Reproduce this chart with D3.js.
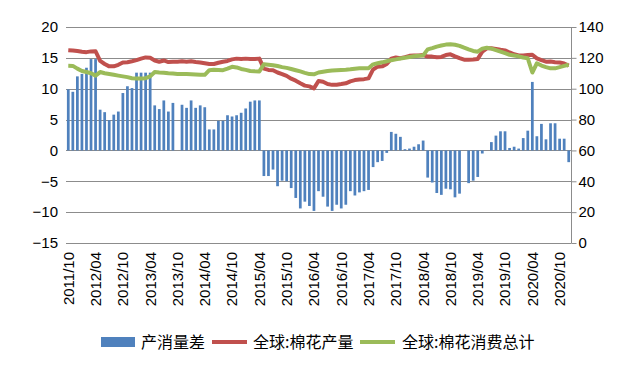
<!DOCTYPE html>
<html>
<head>
<meta charset="utf-8">
<script src="https://cdn.jsdelivr.net/npm/d3@7"></script>
<style>
  html, body { margin: 0; padding: 0; background: #fff; }
  svg { display: block; }
</style>
</head>
<body>
<svg id="chart" width="634" height="367"></svg>
<script>
// ---------- data ----------
const months = [
  "2011/10","2011/11","2011/12",
  "2012/01","2012/02","2012/03","2012/04","2012/05","2012/06","2012/07","2012/08","2012/09","2012/10","2012/11","2012/12",
  "2013/01","2013/02","2013/03","2013/04","2013/05","2013/06","2013/07","2013/08","2013/09","2013/10","2013/11","2013/12",
  "2014/01","2014/02","2014/03","2014/04","2014/05","2014/06","2014/07","2014/08","2014/09","2014/10","2014/11","2014/12",
  "2015/01","2015/02","2015/03","2015/04","2015/05","2015/06","2015/07","2015/08","2015/09","2015/10","2015/11","2015/12",
  "2016/01","2016/02","2016/03","2016/04","2016/05","2016/06","2016/07","2016/08","2016/09","2016/10","2016/11","2016/12",
  "2017/01","2017/02","2017/03","2017/04","2017/05","2017/06","2017/07","2017/08","2017/09","2017/10","2017/11","2017/12",
  "2018/01","2018/02","2018/03","2018/04","2018/05","2018/06","2018/07","2018/08","2018/09","2018/10","2018/11","2018/12",
  "2019/01","2019/02","2019/03","2019/04","2019/05","2019/06","2019/07","2019/08","2019/09","2019/10","2019/11","2019/12",
  "2020/01","2020/02","2020/03","2020/04","2020/05","2020/06","2020/07","2020/08","2020/09","2020/10","2020/11","2020/12"
];

// 产消量差 (left axis)
const gap = [
  9.9, 9.5, 12.0,
  12.4, 13.4, 14.8, 14.8, 6.6, 6.2, 4.9, 5.8, 6.3, 9.3, 10.4, 10.1,
  12.6, 12.6, 12.6, 12.6, 7.3, 6.7, 8.1, 6.3, 7.7, null, 7.4, 6.9,
  8.1, 6.9, 7.3, 7.0, 3.4, 3.4, 4.8, 4.8, 5.7, 5.5, 5.7, 6.1,
  6.8, 7.9, 8.1, 8.1, -4.15, -4.15, -3.1, -5.8, -4.9, -5.0, -6.1, -7.7,
  -9.4, -8.3, -9.0, -9.8, -6.6, -7.5, -9.1, -9.8, -8.8, -9.4, -8.8, -6.6,
  -7.3, -6.8, -6.6, -6.4, -2.7, -1.9, -1.7, -0.4, 3.0, 2.7, 2.2, 0.2,
  0.3, 0.6, 1.0, 1.6, -4.4, -5.2, -6.9, -7.2, -6.2, -6.3, -7.6, -7.0,
  null, -5.3, -4.9, -4.3, -0.5, null, 1.35, 2.4, 3.1, 3.1, 0.4, 0.6,
  0.3, 2.0, 3.2, 11.1, 2.3, 4.3, 1.8, 4.4, 4.4, 1.9, 1.9, -1.9
];

// 全球:棉花产量 (right axis)
const production = [
  125, 124.8, 124.5,
  124, 123.7, 124.2, 124.3, 118, 116, 114.5, 114.5, 115.5, 117, 117.2, 117.8,
  118.5, 119.5, 120.3, 120, 118.3, 117.5, 118.3, 117.3, 117.5, 117.5, 117.8, 117.5,
  117.8, 117.3, 117, 116.5, 116, 116, 116.8, 117.5, 118, 119, 119.5, 119.3,
  119.5, 119.3, 119.2, 119.5, 113, 112.2, 112, 110.5, 109.5, 108.3, 106.5, 105.2,
  103.5, 102, 101.5, 100.2, 105, 104.5, 103, 102.5, 102.6, 103, 103.5, 104.8,
  105.6, 106, 106.2, 106.7, 112.5, 114.3, 114.5, 116, 119.5, 120.2, 119.8, 120.5,
  121.3, 121.5, 121.6, 121.8, 120.8, 120.8, 120.4, 120.6, 121.8, 122.3, 121, 119.8,
  118.8, 118.8, 119, 119.3, 124, 126.2, 126.2, 125.8, 125.2, 124.8, 123.5, 122.3,
  121.6, 121.5, 121.8, 122, 119.7, 118.5, 117.5, 117.6, 117.2, 117, 116.3, 115
];

// 全球:棉花消费总计 (right axis)
const consumption = [
  114.9, 114.8, 113,
  111.5, 110.8, 110, 108.5, 110.8, 110, 109.5, 109, 108.5, 108, 107.5, 106.8,
  106.7, 106.7, 106.8, 108, 110.8, 110.5, 110.3, 110, 109.8, 109.6, 109.5, 109.5,
  109.4, 109.2, 109, 109, 112, 112.3, 112.2, 112, 113, 114.2, 113.8, 112.8,
  112.2, 111.5, 111.3, 111.2, 115.8, 115.5, 115.2, 114.7, 114, 113.5, 112.8, 112,
  111.2, 110.3, 109.5, 109.3, 110.5, 111, 111.5, 111.8, 112, 112.2, 112.3, 112.6,
  113, 113.2, 113.2, 113.3, 115.8, 116.5, 117.1, 117.8, 118.5, 119, 119.6, 120.1,
  120.6, 121.1, 121.4, 121.6, 125.5, 126.3, 127.3, 128, 128.6, 128.8, 128.5, 127.8,
  126.6, 125.5, 124.5, 124, 126, 126.6, 126, 125, 124, 123, 122, 121.5,
  121, 120.2, 119.7, 110.5, 116.5, 115, 114, 113.2, 113.2, 114, 114.8, 115.5
];

const xTickLabels = ["2011/10","2012/04","2012/10","2013/04","2013/10","2014/04","2014/10","2015/04","2015/10",
  "2016/04","2016/10","2017/04","2017/10","2018/04","2018/10","2019/04","2019/10","2020/04","2020/10"];
const leftTicks = [-15, -10, -5, 0, 5, 10, 15, 20];
const rightTicks = [0, 20, 40, 60, 80, 100, 120, 140];
const legendLabels = ["产消量差", "全球:棉花产量", "全球:棉花消费总计"];
const colors = { bar: "#4F81BD", prod: "#C0504D", cons: "#9BBB59", grid: "#8C8C8C" };

// ---------- layout ----------
const plot = { left: 66, right: 571, top: 27, bottom: 243 };
const svg = d3.select("#chart");
const latin = "'Liberation Sans', Arial, sans-serif";
const cjk = "'Noto Sans CJK SC', 'Noto Sans', sans-serif";

const x = d3.scaleBand().domain(months).range([plot.left, plot.right]).paddingInner(0.4).paddingOuter(0.2);
const xc = d3.scaleBand().domain(months).range([plot.left, plot.right]).padding(0);
const yL = d3.scaleLinear().domain([-15, 20]).range([plot.bottom, plot.top]);
const yR = d3.scaleLinear().domain([0, 140]).range([plot.bottom, plot.top]);

// gridlines
svg.append("g")
  .selectAll("line").data(leftTicks).join("line")
  .attr("x1", plot.left).attr("x2", plot.right)
  .attr("y1", d => Math.round(yL(d)) + 0.5).attr("y2", d => Math.round(yL(d)) + 0.5)
  .attr("stroke", colors.grid).attr("stroke-width", 1);

// left axis labels
const leftAxis = d3.axisLeft(yL).tickValues(leftTicks).tickSize(0).tickPadding(8);
const gl = svg.append("g").attr("transform", `translate(${plot.left},0)`).call(leftAxis);
gl.select(".domain").remove();
gl.selectAll("text").attr("font-family", latin).attr("font-size", 15).attr("fill", "#000");

// right axis
const rightAxis = d3.axisRight(yR).tickValues(rightTicks).tickSize(5).tickPadding(2);
const gr = svg.append("g").attr("transform", `translate(${plot.right + 0.5},0)`).call(rightAxis);
gr.select(".domain").attr("stroke", colors.grid).attr("d", `M0,${plot.top}V${plot.bottom + 0.5}`);
gr.selectAll(".tick line").attr("stroke", colors.grid);
gr.selectAll("text").attr("font-family", latin).attr("font-size", 15).attr("fill", "#000");

// bars
const barData = months.map((m, i) => ({ m, v: gap[i] })).filter(d => d.v !== null);
svg.append("g")
  .selectAll("rect").data(barData).join("rect")
  .attr("x", d => x(d.m))
  .attr("width", x.bandwidth())
  .attr("y", d => Math.min(yL(d.v), yL(0)))
  .attr("height", d => Math.abs(yL(d.v) - yL(0)))
  .attr("fill", colors.bar);

// lines
const lineR = d3.line().x((d, i) => xc(months[i]) + xc.bandwidth() / 2).y(d => yR(d));
svg.append("path").datum(production).attr("d", lineR)
  .attr("fill", "none").attr("stroke", colors.prod).attr("stroke-width", 4).attr("stroke-linejoin", "round");
svg.append("path").datum(consumption).attr("d", lineR)
  .attr("fill", "none").attr("stroke", colors.cons).attr("stroke-width", 4).attr("stroke-linejoin", "round");

// x axis labels
const xAxis = d3.axisBottom(xc).tickValues(xTickLabels).tickSize(0).tickFormat(d => d);
const gx = svg.append("g").attr("transform", `translate(0,${plot.bottom})`).call(xAxis);
gx.select(".domain").remove();
gx.selectAll("text")
  .attr("font-family", latin).attr("font-size", 15).attr("fill", "#000")
  .attr("text-anchor", "end")
  .attr("transform", "translate(0,9) rotate(-90)")
  .attr("x", 0).attr("y", 0).attr("dy", "0.36em");

// legend
const lg = svg.append("g");
lg.append("rect").attr("x", 101).attr("y", 337).attr("width", 34).attr("height", 10).attr("fill", colors.bar);
lg.append("text").attr("x", 141).attr("y", 348).text(legendLabels[0]);
lg.append("line").attr("x1", 212).attr("x2", 247).attr("y1", 342).attr("y2", 342)
  .attr("stroke", colors.prod).attr("stroke-width", 4);
lg.append("text").attr("x", 253).attr("y", 348).text(legendLabels[1]);
lg.append("line").attr("x1", 360).attr("x2", 395).attr("y1", 342).attr("y2", 342)
  .attr("stroke", colors.cons).attr("stroke-width", 4);
lg.append("text").attr("x", 402).attr("y", 348).text(legendLabels[2]);
lg.selectAll("text").attr("font-family", cjk).attr("font-size", 16).attr("fill", "#000");
</script>
</body>
</html>
